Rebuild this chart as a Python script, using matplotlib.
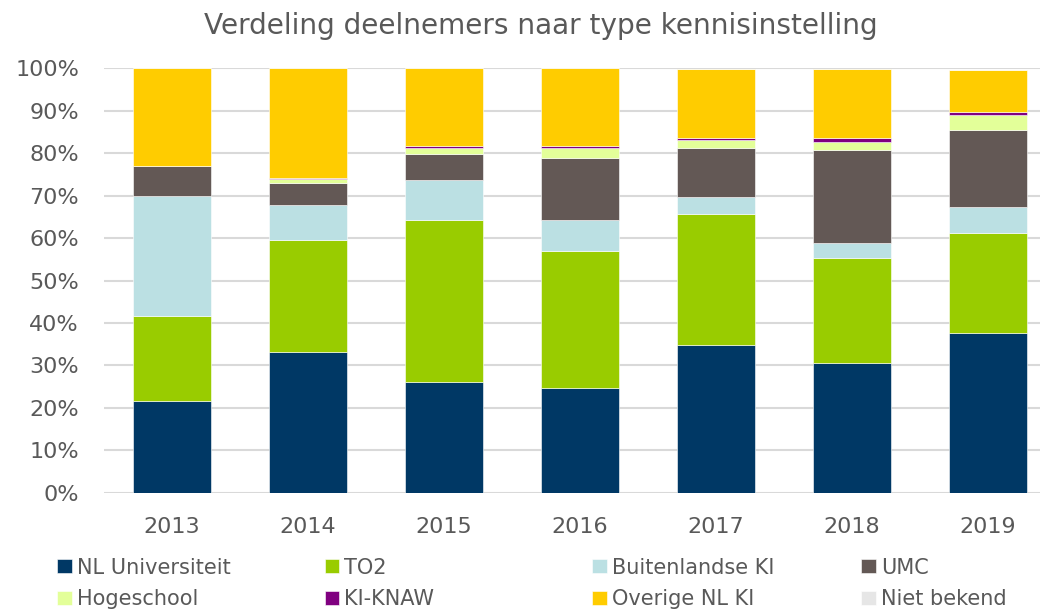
import matplotlib.pyplot as plt
import numpy as np

# Data (percentages)
years = ["2013", "2014", "2015", "2016", "2017", "2018", "2019"]
nl_universiteit = [21.6, 33.2, 26.1, 24.6, 34.9, 30.6, 37.6]
to2 = [20.1, 26.3, 38.1, 32.4, 30.7, 24.7, 23.6]
buitenlandse_ki = [28.3, 8.3, 9.4, 7.2, 4.0, 3.5, 6.1]
umc = [6.9, 5.1, 6.1, 14.6, 11.6, 21.8, 18.0]
hogeschool = [0.0, 1.0, 1.5, 2.3, 1.8, 2.1, 3.6]
ki_knaw = [0.0, 0.3, 0.4, 0.5, 0.6, 0.9, 0.7]
overige_nl_ki = [23.1, 25.8, 18.4, 18.4, 16.2, 16.2, 10.0]
niet_bekend = [0.0, 0.0, 0.0, 0.0, 0.0, 0.0, 0.0]

series = [
    ("NL Universiteit", nl_universiteit, "#003865"),
    ("TO2", to2, "#99CC00"),
    ("Buitenlandse KI", buitenlandse_ki, "#BBE0E3"),
    ("UMC", umc, "#635855"),
    ("Hogeschool", hogeschool, "#E3FF99"),
    ("KI-KNAW", ki_knaw, "#800080"),
    ("Overige NL KI", overige_nl_ki, "#FFCC00"),
    ("Niet bekend", niet_bekend, "#E6E6E6"),
]

text_color = "#595959"
fig = plt.figure(figsize=(10.44, 6.15), dpi=100, facecolor="white")
ax = fig.add_axes([0.0996, 0.1984, 0.8964, 0.691])

x = np.arange(len(years))
bottom = np.zeros(len(years))
handles = {}
for name, vals, col in series:
    b = ax.bar(x, vals, bottom=bottom, width=0.57, color=col, label=name,
               edgecolor="white", linewidth=0.4, zorder=3)
    handles[name] = b
    bottom += np.array(vals)

ax.set_ylim(0, 100)
ax.set_xlim(-0.5, 6.38)
ax.set_yticks(np.arange(0, 101, 10))
ax.set_yticklabels(["{:d}%".format(v) for v in range(0, 101, 10)])
ax.set_xticks(x)
ax.set_xticklabels(years)
ax.tick_params(axis="both", length=0, labelsize=16, labelcolor=text_color)
ax.tick_params(axis="y", pad=18)
ax.tick_params(axis="x", pad=17)
ax.yaxis.grid(True, color="#D9D9D9", linewidth=1.5, zorder=0)
for s in ax.spines.values():
    s.set_visible(False)

fig.text(0.518, 1 - 33.5 / 615, "Verdeling deelnemers naar type kennisinstelling",
         ha="center", va="baseline", fontsize=20.2, color=text_color)

# Legend: four columns of two entries
columns = [("NL Universiteit", "Hogeschool"), ("TO2", "KI-KNAW"),
           ("Buitenlandse KI", "Overige NL KI"), ("UMC", "Niet bekend")]
col_x = [0.0546, 0.311, 0.567, 0.825]
for names, cx in zip(columns, col_x):
    leg = fig.legend([handles[n] for n in names], names, loc="upper left",
                     bbox_to_anchor=(cx, 0.0933), frameon=False, fontsize=15,
                     handlelength=0.7, handleheight=0.65, handletextpad=0.25,
                     labelspacing=0.54, borderaxespad=0, borderpad=0)
    for t in leg.get_texts():
        t.set_color(text_color)

plt.savefig("out.png", dpi=100, facecolor="white")
